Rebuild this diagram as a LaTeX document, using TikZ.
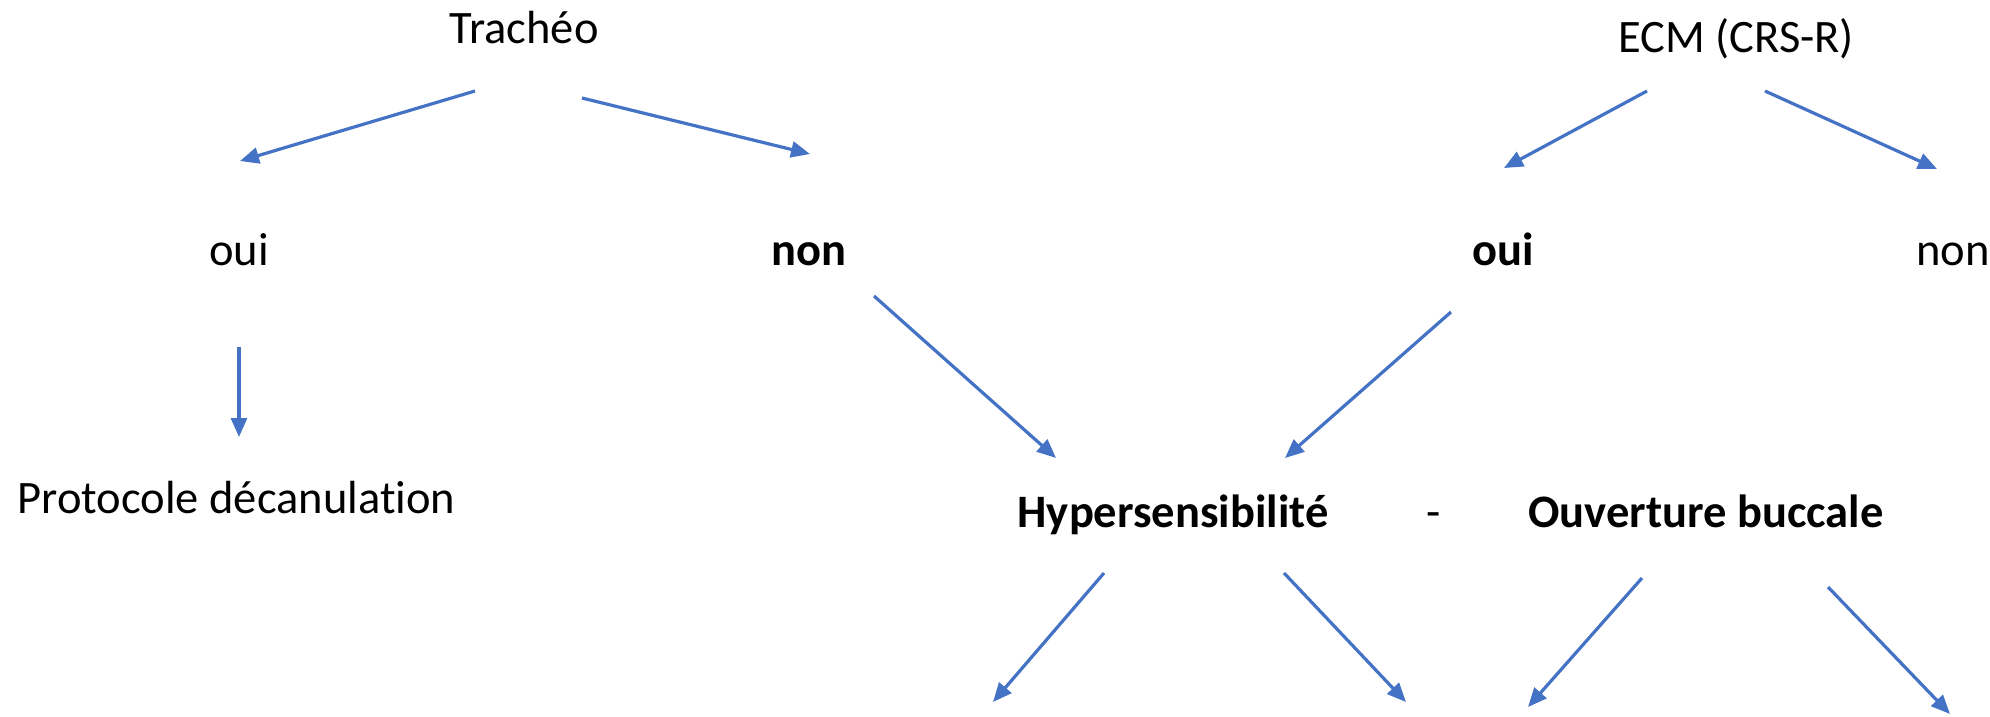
\documentclass[tikz,border=0pt]{standalone}
\usepackage{fontspec}
\setmainfont{Carlito}[Ligatures=NoCommon]
\usetikzlibrary{arrows.meta}
\definecolor{linkblue}{HTML}{4472C4}
\begin{document}
\begin{tikzpicture}[x=1pt,y=-1pt,
  lbl/.style={anchor=base,inner sep=0pt,font=\fontsize{46.5}{55}\selectfont},
  blbl/.style={lbl,font=\fontsize{46.5}{55}\selectfont\bfseries},
  link/.style={draw=linkblue,line width=3.2pt,-{Triangle[length=19pt,width=16pt]}}]
\useasboundingbox (0,0) rectangle (1990,716);

% labels
\node[lbl]  (trach) at (524,43)   {Trachéo};
\node[lbl]  (ecm)   at (1736,52)  {ECM (CRS-R)};
\node[lbl]  (ouiA)  at (239,265)  {oui};
\node[blbl] (nonA)  at (809,265)  {non};
\node[blbl] (ouiB)  at (1503,265) {oui};
\node[lbl]  (nonB)  at (1953,265) {non};
\node[lbl]  (proto) at (236.5,513) {Protocole décanulation};
\node[blbl] (hyper) at (1173,527) {Hypersensibilité};
\node[lbl]  (dash)  at (1434,527) {-};
\node[blbl] (ouv)   at (1706,527) {Ouverture buccale};

% connector end points
\coordinate (trachL) at (475,91);   \coordinate (ouiAtop)  at (240,161);
\coordinate (trachR) at (582,98);   \coordinate (nonAtop)  at (810,154);
\coordinate (ouiAbot) at (239,347); \coordinate (protoTop) at (239,437);
\coordinate (nonAbot) at (874,296); \coordinate (hyperL)   at (1056,458);
\coordinate (ecmL)   at (1647,91);  \coordinate (ouiBtop)  at (1504,168);
\coordinate (ecmR)   at (1765,91);  \coordinate (nonBtop)  at (1937,169);
\coordinate (ouiBbot) at (1451,312); \coordinate (hyperR)  at (1285,458);
\coordinate (hyperBL) at (1104,573); \coordinate (endA)    at (993,702);
\coordinate (hyperBR) at (1284,573); \coordinate (endB)    at (1406,702);
\coordinate (ouvBL)   at (1642,578); \coordinate (endC)    at (1528,707);
\coordinate (ouvBR)   at (1828,587); \coordinate (endD)    at (1950,714);

% connectors
\draw[link] (trachL) -- (ouiAtop);
\draw[link] (trachR) -- (nonAtop);
\draw[link] (ouiAbot) -- (protoTop);
\draw[link] (nonAbot) -- (hyperL);
\draw[link] (ecmL) -- (ouiBtop);
\draw[link] (ecmR) -- (nonBtop);
\draw[link] (ouiBbot) -- (hyperR);
\draw[link] (hyperBL) -- (endA);
\draw[link] (hyperBR) -- (endB);
\draw[link] (ouvBL) -- (endC);
\draw[link] (ouvBR) -- (endD);
\end{tikzpicture}
\end{document}
